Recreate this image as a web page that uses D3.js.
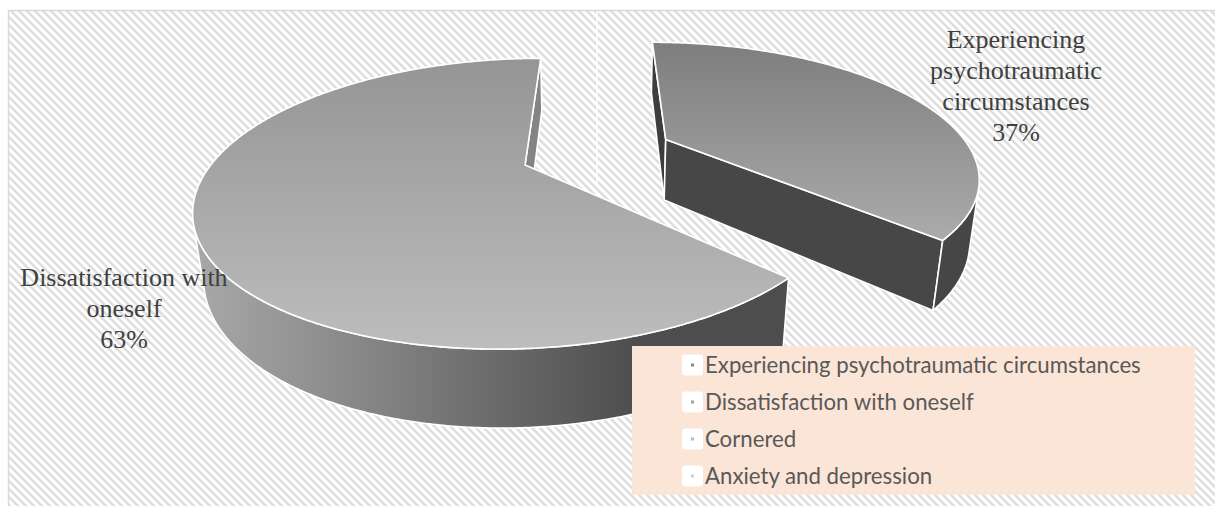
<!DOCTYPE html>
<html><head><meta charset="utf-8">
<script src="https://cdn.jsdelivr.net/npm/d3@7"></script>
<style>body{margin:0;background:#fff}svg{display:block}</style>
</head><body>
<svg id="chart" width="1215" height="506"></svg>
<script>
// ---------------- data ----------------
const categories = ["Experiencing psychotraumatic circumstances", "Dissatisfaction with oneself", "Cornered", "Anxiety and depression"];
const values = [37, 63, 0, 0];
const labelLines = [["Experiencing", "psychotraumatic", "circumstances"], ["Dissatisfaction with", "oneself"], [], []];

// ---------------- layout / style ----------------
const W = 1215, H = 506;
const svg = d3.select("#chart");
const defs = svg.append("defs");

// hatch background
const pat = defs.append("pattern").attr("id", "hatch").attr("patternUnits", "userSpaceOnUse")
  .attr("width", 8).attr("height", 8);
pat.append("rect").attr("width", 8).attr("height", 8).attr("fill", "#ffffff");
pat.append("path").attr("d", "M-2,-2L10,10M-2,6L2,10M6,-2L10,2")
  .attr("stroke", "#dedede").attr("stroke-width", 2.6);

svg.append("rect").attr("x", 8.5).attr("y", 10.5).attr("width", W).attr("height", H)
  .attr("fill", "url(#hatch)").attr("stroke", "#d9d9d9").attr("stroke-width", 1.5);

// seam line
svg.append("line").attr("x1", 597).attr("x2", 597).attr("y1", 11).attr("y2", 185)
  .attr("stroke", "#ffffff").attr("stroke-width", 1.5);

// 3D perspective camera (disc radius 1, top at Z=0)
const cam = {vpx: 599.6, cy: 165, A: 1180, B: 280, K: 1246, s: 0.407, c: 0.914, Dn: 3.755, tan: 0.445, t: 0.213};
function proj(X, Y, Z) {
  const wn = cam.Dn - Y - Z * cam.tan;
  return [cam.vpx + (cam.A * X - cam.B) / wn, cam.cy + cam.K * (cam.s * Y - cam.c * Z) / wn];
}
function area(pts) {
  let a = 0;
  for (let i = 0; i < pts.length; i++) {
    const p = pts[i], q = pts[(i + 1) % pts.length];
    a += p[0] * q[1] - q[0] * p[1];
  }
  return a / 2;
}
const line = d3.line();

const data = categories.map((c, i) => ({name: c, value: values[i], lines: labelLines[i], idx: i}));
const arcs = d3.pie().sort(null).value(d => d.value)(data).filter(a => a.data.value > 0);

const explode = [0.5, 0, 0, 0];
const styles = [
  {top: ["#7e7e7e", "#ababab"], side: "#464646", startWall: "#3d3d3d", endWall: "#474747"},
  {top: ["#959595", "#bdbdbd"], side: "url(#side1)", startWall: "#4a4a4a", endWall: "#848484"}
];

const g1 = defs.append("linearGradient").attr("id", "side1").attr("gradientUnits", "userSpaceOnUse")
  .attr("x1", 190).attr("x2", 640).attr("y1", 0).attr("y2", 0);
g1.append("stop").attr("offset", 0).attr("stop-color", "#a9a9a9");
g1.append("stop").attr("offset", 0.45).attr("stop-color", "#808080");
g1.append("stop").attr("offset", 1).attr("stop-color", "#4d4d4d");

const pieG = svg.append("g");
const strokeStyle = sel => sel.attr("stroke", "#ffffff").attr("stroke-width", 1.6).attr("stroke-linejoin", "round");

// draw back (exploded) slice first
arcs.slice().sort((a, b) => b.data.idx === 0 ? 1 : -1);
const order = arcs.slice().sort((a, b) => explode[b.data.idx] - explode[a.data.idx]);

order.forEach(a => {
  const i = a.data.idx;
  const st = styles[i];
  const mid = (a.startAngle + a.endAngle) / 2;
  const ox = explode[i] * Math.sin(mid), oy = -explode[i] * Math.cos(mid);
  const n = Math.max(2, Math.ceil((a.endAngle - a.startAngle) / (Math.PI / 360)));
  const angs = d3.range(n + 1).map(k => a.startAngle + (a.endAngle - a.startAngle) * k / n);
  const T = angs.map(t => proj(ox + Math.sin(t), oy - Math.cos(t), 0));
  const Bt = angs.map(t => proj(ox + Math.sin(t), oy - Math.cos(t), -cam.t));
  const cT = proj(ox, oy, 0), cB = proj(ox, oy, -cam.t);
  const g = pieG.append("g");

  // radial walls
  const startWall = [cT, T[0], Bt[0], cB];
  const endWall = [cT, cB, Bt[n], T[n]];
  if (area(startWall) < 0) strokeStyle(g.append("path").attr("d", line(startWall) + "Z").attr("fill", st.startWall));
  if (area(endWall) < 0) strokeStyle(g.append("path").attr("d", line(endWall) + "Z").attr("fill", st.endWall));

  // outer curved wall: visible runs
  let runs = [], cur = null;
  for (let k = 0; k < n; k++) {
    const vis = area([T[k], T[k + 1], Bt[k + 1], Bt[k]]) < 0;
    if (vis) { if (!cur) { cur = [k, k]; runs.push(cur); } cur[1] = k + 1; }
    else cur = null;
  }
  runs.forEach(([k0, k1]) => {
    const pts = T.slice(k0, k1 + 1).concat(Bt.slice(k0, k1 + 1).reverse());
    strokeStyle(g.append("path").attr("d", line(pts) + "Z").attr("fill", st.side));
  });

  // top face
  const topPts = [cT].concat(T);
  const ys = topPts.map(p => p[1]);
  const gid = "top" + i;
  const gt = defs.append("linearGradient").attr("id", gid).attr("gradientUnits", "userSpaceOnUse")
    .attr("x1", 0).attr("x2", 0).attr("y1", d3.min(ys)).attr("y2", d3.max(ys));
  gt.append("stop").attr("offset", 0).attr("stop-color", st.top[0]);
  gt.append("stop").attr("offset", 1).attr("stop-color", st.top[1]);
  strokeStyle(g.append("path").attr("d", line(topPts) + "Z").attr("fill", `url(#${gid})`));
});

// data labels
const labelPos = {0: [1016, 48], 1: [124, 286]};
arcs.forEach(a => {
  const i = a.data.idx;
  const total = d3.sum(values);
  const lines = a.data.lines.concat([Math.round(a.data.value / total * 100) + "%"]);
  const t = svg.append("text").attr("font-family", "'Liberation Serif','Times New Roman',serif")
    .attr("font-size", 26).attr("fill", "#404040").attr("text-anchor", "middle");
  lines.forEach((l, j) => t.append("tspan").attr("x", labelPos[i][0]).attr("y", labelPos[i][1] + j * 31).text(l));
});

// legend
const lg = svg.append("g").attr("transform", "translate(632,346)");
lg.append("rect").attr("width", 563).attr("height", 149).attr("fill", "#fbe5d6");
const dotColors = ["#8c8c8c", "#a3a3a3", "#bababa", "#cfcfcf"];
const items = lg.selectAll("g.item").data(categories).join("g").attr("class", "item")
  .attr("transform", (d, i) => `translate(0,${19 + i * 37})`);
items.append("rect").attr("x", 50).attr("y", -10.5).attr("width", 21).attr("height", 21).attr("rx", 3)
  .attr("fill", "#ffffff");
items.append("rect").attr("x", 59).attr("y", -1.5).attr("width", 3).attr("height", 3)
  .attr("fill", (d, i) => dotColors[i]);
const texts = items.append("text").attr("x", 73).attr("y", 0).attr("dy", "0.35em")
  .attr("font-family", "Lato, 'Open Sans', sans-serif").attr("font-size", 20).attr("fill", "#595959")
  .text(d => d);
const w0 = texts.nodes()[0].getComputedTextLength();
texts.attr("font-size", 20 * 436 / w0);
</script>
</body></html>
